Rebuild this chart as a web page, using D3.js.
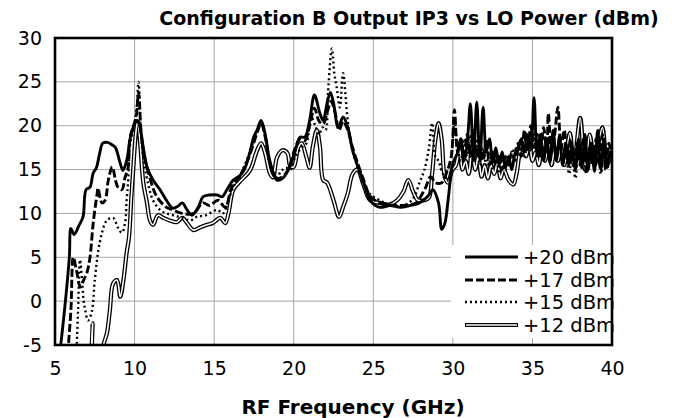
<!DOCTYPE html>
<html><head><meta charset="utf-8">
<script src="https://cdn.jsdelivr.net/npm/d3@7"></script>
<style>body{margin:0;background:#fff}svg{display:block}text{font-family:"DejaVu Sans",sans-serif}</style>
</head><body><svg id="c" width="677" height="418"></svg>
<script>
const title = "Configuration B Output IP3 vs LO Power (dBm)";
const xTitle = "RF Frequency (GHz)";
const xTicks = [5,10,15,20,25,30,35,40];
const yTicks = [-5,0,5,10,15,20,25,30];
const seriesNames = ["+20 dBm","+17 dBm","+15 dBm","+12 dBm"];

const f20 = [5.3,5.6,5.9,6.0,6.2,6.5,6.76,6.95,7.2,7.4,7.6,7.8,8.0,8.3,8.6,8.8,9.1,9.27,9.5,9.8,10.15,10.34,10.55,10.78,11.16,11.6,12.0,12.4,12.7,13.0,13.3,13.6,14.0,14.3,14.7,15.2,15.5,15.8,16.2,16.6,16.9,17.25,17.5,17.7,17.95,18.2,18.5,18.95,19.3,19.65,20.1,20.4,20.7,21.0,21.3,21.65,21.85,22.1,22.3,22.5,22.8,23.1,23.4,23.7,24.0,24.4,24.8,25.4,26.05,26.7,27.3,27.9,28.4,28.75,29.1,29.3,29.5,29.7,30.0,30.3,30.5,30.7,30.9,31.1,31.3,31.5,31.7,31.9,32.1,32.3,32.5,32.7,32.9,33.1,33.3,33.5,33.7,33.9,34.1,34.3,34.5,34.7,34.9,35.1,35.3,35.5,35.7,35.9,36.1,36.3,36.5,36.7,36.9,37.1,37.3,37.5,37.7,37.9,38.1,38.3,38.5,38.7,38.9,39.1,39.3,39.5,39.7,39.9,40];
const v20 = [-6,-1,5,8.3,7.6,8.6,9.6,12.7,13,14.6,15.2,16.8,18,18.1,17.8,17.5,15.7,14.9,16,19.2,20.6,19.8,17.5,15.3,13.8,12.7,11.5,10.6,10.8,11.2,10.4,9.8,10.7,11.9,12.1,12.1,11.9,12.7,13.8,14.3,15,17,18.8,19.5,20.6,19.1,16,13.8,14,14.9,17.2,18.7,18.7,20.6,23.5,21.4,20.6,22.6,23.8,22.6,19.8,21,19.8,17.2,15.5,13.5,11.5,10.7,10.9,10.7,10.9,11.2,11.9,12.7,11.2,8.2,8.9,11.5,15.7,16.9,18.5,16,18,22.5,16,22.7,16,22.1,17,18.5,15.8,17.5,15.5,17,15.2,16.5,15,16.8,17.5,18.5,17,19,17.5,23.2,16.5,19,16,18.5,15.8,19.5,16,18.8,15.5,18,15.5,17.5,15,18.5,15.2,19,15,18,14.8,19.5,15,18.5,15.5,17,16.5];

const f17 = [5.8,6.0,6.15,6.35,6.6,6.8,7.0,7.2,7.4,7.65,7.7,7.95,8.15,8.35,8.6,8.8,8.95,9.2,9.4,9.6,9.7,9.9,10.1,10.25,10.4,10.55,11.0,11.4,12.0,12.4,13.0,13.7,14.3,14.7,15.25,15.7,16.1,16.6,17.2,17.7,17.95,18.2,18.5,18.95,19.3,19.65,20.1,20.4,20.7,21.0,21.3,21.6,21.85,22.1,22.35,22.6,22.85,23.1,23.4,23.7,24.0,24.4,24.8,25.4,26.0,26.7,27.3,27.7,28.0,28.3,28.6,28.9,29.3,29.6,29.9,30.1,30.3,30.5,30.7,30.9,31.1,31.3,31.5,31.7,31.9,32.1,32.3,32.5,32.7,32.9,33.1,33.3,33.5,33.7,33.9,34.1,34.3,34.5,34.7,34.9,35.1,35.3,35.5,35.7,35.9,36.0,36.2,36.4,36.6,36.8,37.0,37.2,37.4,37.6,37.8,38.0,38.2,38.4,38.6,38.8,39.0,39.2,39.4,39.6,39.8,40];
const v17 = [-6,-1,5,3.5,1.6,2.4,3.2,5,8.9,12.3,12.9,11.2,11.5,13.8,15.3,13.8,13,12.7,14.1,15.3,18.4,19.8,21,23.8,19.5,17.2,13.8,11.9,10.7,10.4,10,10,11.2,10.9,11.5,10.7,13,14.2,16.5,19.2,20.3,18.8,15.8,14,14.2,15,17.5,18.5,18.3,20,22,20.5,20.2,21.5,22.8,21.5,19.5,20.5,19.5,17.5,15.8,13.8,12,11.2,11,10.9,11,11.2,12,13,14.2,13.5,13.5,14.6,16.5,21.8,17,18.5,16.5,19,16.5,19.5,16.5,18,16,18.5,15.5,17,15.5,16.8,15,16.5,15.5,17,16,18,16.5,19.5,17,20,17.5,19,16.5,19.8,17,21.4,17,19,22.1,17.5,19.5,16,18.5,15.5,18,15.5,18.5,14.5,17.5,15.5,18.5,15.5,19,15,18,16];

const f15 = [6.35,6.45,6.57,6.7,6.8,6.9,7.07,7.3,7.5,7.7,7.95,8.25,8.65,8.95,9.2,9.4,9.5,9.6,9.7,9.9,10.1,10.25,10.4,10.6,10.9,11.16,11.6,12.0,12.4,13.0,13.5,13.9,14.5,15.2,15.55,15.9,16.2,16.6,17.2,17.7,17.95,18.2,18.5,18.9,19.2,19.5,19.8,20.1,20.5,20.8,21.1,21.35,21.6,21.8,22.0,22.15,22.4,22.55,22.7,22.9,23.1,23.35,23.55,24.0,24.35,24.8,25.4,26.0,26.7,27.3,27.6,27.9,28.2,28.5,28.7,28.9,29.1,29.4,29.7,29.9,30.1,30.3,30.5,30.7,30.9,31.1,31.3,31.5,31.7,31.9,32.1,32.3,32.5,32.7,32.9,33.1,33.3,33.5,33.7,33.9,34.1,34.3,34.5,34.7,34.9,35.1,35.3,35.5,35.7,35.9,36.1,36.3,36.5,36.7,36.9,37.1,37.3,37.5,37.7,37.9,38.1,38.3,38.5,38.7,38.9,39.1,39.3,39.5,39.7,39.9,40];
const v15 = [-6,-1,4.7,2.4,0,-1,-2.2,-1.3,2.4,5.5,7.8,9.2,9.5,8.4,7.8,8.9,11.5,13.8,17.6,19.5,21.5,25,19,15.7,13,11.5,10.4,10,9.8,9.5,9.2,9.6,9.8,10.4,10,11.5,13,14.2,16.8,19.5,20.5,19,15.8,14,14.8,15.2,15,16.5,17.5,18,21,20,19,19.8,19.5,23.7,28.8,26,24.4,22.1,26,21.4,18.4,15.3,13.5,12.2,11.5,11,10.8,11.3,12,13.5,14.9,17.5,20.3,16.5,16,14.5,15,16.5,20.5,17.5,16,18.5,16.5,19,16,18.5,15.5,17.5,15.5,17,15,16.5,14.8,16.5,15,16,16.5,17.5,16.5,18,16.5,18.5,17,19,17,18,16.5,18.5,16,18.5,16.5,18,15.5,17,14.5,16.5,14,17,15.5,17.5,15,18,15.5,17.5,14.5,17,15,17.5,16.5];

const f12 = [7.25,7.36,7.47,7.9,8.05,8.27,8.45,8.65,8.9,9.1,9.3,9.5,9.65,9.8,9.95,10.1,10.2,10.35,10.55,10.78,10.97,11.16,11.47,11.8,12.2,12.65,13.0,13.3,13.7,14.1,14.55,14.9,15.4,15.7,15.9,16.2,16.6,17.25,17.7,17.95,18.2,18.5,18.7,18.95,19.3,19.6,19.8,20.0,20.3,20.5,20.8,21.0,21.2,21.45,21.65,21.85,22.1,22.5,22.85,23.1,23.4,23.7,24.0,24.4,24.8,25.4,26.0,26.5,26.9,27.2,27.5,27.8,28.2,28.5,28.7,28.9,29.1,29.3,29.5,29.7,29.95,30.2,30.4,30.6,30.8,31.0,31.2,31.4,31.6,31.8,32.0,32.2,32.4,32.6,32.8,33.0,33.2,33.5,33.8,34.0,34.2,34.4,34.6,34.8,35.0,35.2,35.4,35.6,35.8,36.0,36.2,36.4,36.6,36.8,37.0,37.35,37.6,38.0,38.3,38.6,38.9,39.1,39.4,39.7,40];
const v12 = [-8,-2.5,-8,-8,-5,-3.6,-1,2,2.4,0.5,2.4,5.5,7.3,11.9,16,19.5,20.5,18,13.5,11.2,9.2,8.7,9.8,9.5,9.2,9,9.5,8.9,8.1,8.4,8.7,8.9,9.5,8.9,10,12.7,13.6,14.9,17.2,18,16.9,14.6,14.1,16.4,17.2,16.9,15.3,15.3,17.6,18,16.4,15.2,17.6,19.5,17.6,13.8,13.5,11.5,9.6,10.7,12.3,14.5,15,13.2,11.5,11.2,11,11.5,12.5,13.8,12.5,11.5,11.5,11.8,14.6,18.4,20.3,18.4,14.1,13.5,14.9,15.5,17.5,15,16,14.5,17.5,15,16.5,14.2,15.5,14,15.5,14.5,15.8,14,15,13.8,13.3,14.5,17,18.5,16.5,18,16,17,15.5,17.5,16,18.5,15.5,17.5,16,17.5,15.5,19.2,15.5,20.9,15,19,15.5,17.5,19.8,15.5,17];

const W = 677, H = 418;
const m = {l:55, r:612, t:38, b:345};
const x = d3.scaleLinear().domain([5,40]).range([m.l, m.r]);
const y = d3.scaleLinear().domain([-5,30]).range([m.b, m.t]);
const svg = d3.select("#c");

svg.append("defs").append("clipPath").attr("id","clip")
  .append("rect").attr("x",m.l).attr("y",m.t).attr("width",m.r-m.l).attr("height",m.b-m.t);

// grid
const g = svg.append("g");
g.selectAll(".gx").data(xTicks).join("line")
  .attr("x1",d=>x(d)).attr("x2",d=>x(d)).attr("y1",m.t).attr("y2",m.b)
  .attr("stroke","#a6a6a6").attr("stroke-width",1);
g.selectAll(".gy").data(yTicks).join("line")
  .attr("y1",d=>y(d)).attr("y2",d=>y(d)).attr("x1",m.l).attr("x2",m.r)
  .attr("stroke","#a6a6a6").attr("stroke-width",1);

// axes labels via d3 axes
const xAxis = svg.append("g").attr("transform",`translate(0,${m.b})`)
  .call(d3.axisBottom(x).tickValues(xTicks).tickSize(0).tickPadding(17));
const yAxis = svg.append("g").attr("transform",`translate(${m.l},0)`)
  .call(d3.axisLeft(y).tickValues(yTicks).tickSize(0).tickPadding(13).tickFormat(d=>d<0?"-"+Math.abs(d):d));
[xAxis,yAxis].forEach(a=>{a.select(".domain").remove();
  a.selectAll("text").attr("font-family","DejaVu Sans").attr("font-size",19).attr("fill","#000");});

// series
const line = d3.line().x(d=>x(d[0])).y(d=>y(d[1])).curve(d3.curveCatmullRom.alpha(0.5));
const zip = (a,b)=>a.map((v,i)=>[v,b[i]]);
const plot = svg.append("g").attr("clip-path","url(#clip)");
const styles = [
  {f:f20,v:v20,w:2.9,dash:null},
  {f:f17,v:v17,w:2.9,dash:"8,3"},
  {f:f15,v:v15,w:2.4,dash:"2,3"},
];
// +12 double line
plot.append("path").datum(zip(f12,v12)).attr("d",line).attr("fill","none")
  .attr("stroke","#000").attr("stroke-width",4.2).attr("stroke-linejoin","round");
plot.append("path").datum(zip(f12,v12)).attr("d",line).attr("fill","none")
  .attr("stroke","#fff").attr("stroke-width",1.6).attr("stroke-linejoin","round");
styles.slice().reverse().forEach(s=>{
  plot.append("path").datum(zip(s.f,s.v)).attr("d",line).attr("fill","none")
    .attr("stroke","#000").attr("stroke-width",s.w).attr("stroke-linejoin","round")
    .attr("stroke-dasharray",s.dash);
});

// legend
const lg = svg.append("g");
lg.append("rect").attr("x",451).attr("y",245).attr("width",m.r-451).attr("height",93).attr("fill","#fff");
const legY = [257,280,302,325];
const legStyles = [
  {w:2.9,dash:null},{w:2.9,dash:"8,3"},{w:2.4,dash:"2,3"},{w:4.2,dash:null,dbl:true}
];
seriesNames.forEach((n,i)=>{
  const s = legStyles[i];
  lg.append("line").attr("x1",465).attr("x2",518).attr("y1",legY[i]).attr("y2",legY[i])
    .attr("stroke","#000").attr("stroke-width",s.w).attr("stroke-dasharray",s.dash);
  if(s.dbl) lg.append("line").attr("x1",466).attr("x2",517).attr("y1",legY[i]).attr("y2",legY[i])
    .attr("stroke","#fff").attr("stroke-width",1.6);
  lg.append("text").attr("x",523).attr("y",legY[i]+7).attr("font-size",19.5).text(n);
});

// frame
svg.append("rect").attr("x",m.l).attr("y",m.t).attr("width",m.r-m.l).attr("height",m.b-m.t)
  .attr("fill","none").attr("stroke","#000").attr("stroke-width",2.6);

// titles
svg.append("text").attr("x",409).attr("y",25).attr("text-anchor","middle")
  .attr("font-size",19).attr("font-weight","bold").text(title);
svg.append("text").attr("x",353).attr("y",414).attr("text-anchor","middle")
  .attr("font-size",20).attr("font-weight","bold").text(xTitle);
</script></body></html>
